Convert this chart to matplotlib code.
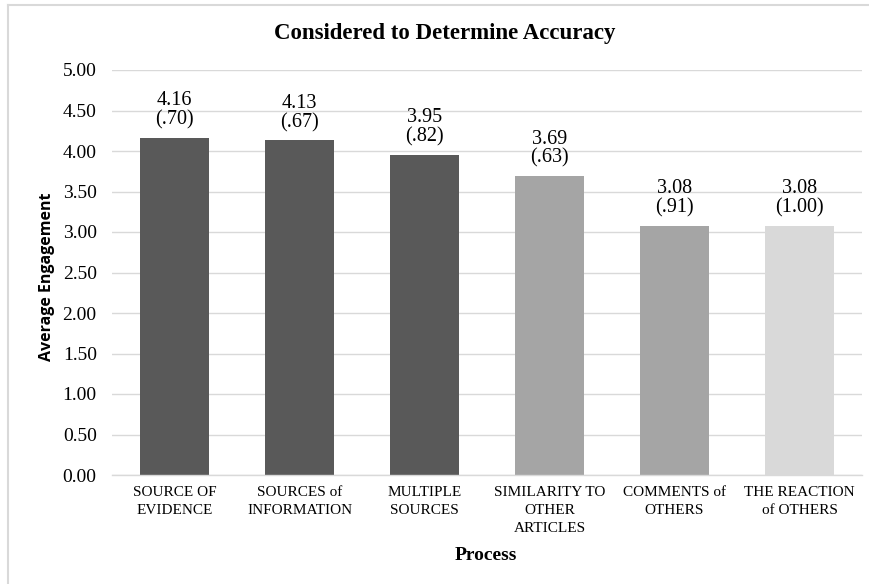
import matplotlib.pyplot as plt
from matplotlib.lines import Line2D

CATEGORIES = ["SOURCE OF\nEVIDENCE", "SOURCES of\nINFORMATION", "MULTIPLE\nSOURCES",
              "SIMILARITY TO\nOTHER\nARTICLES", "COMMENTS of\nOTHERS", "THE REACTION\nof OTHERS"]
MEANS = [4.16, 4.13, 3.95, 3.69, 3.08, 3.08]
SDS = ["(.70)", "(.67)", "(.82)", "(.63)", "(.91)", "(1.00)"]
COLORS = ["#595959", "#595959", "#595959", "#A5A5A5", "#A5A5A5", "#D9D9D9"]

SERIF = "Liberation Serif"
W, H = 869, 584

fig = plt.figure(figsize=(W / 100, H / 100), dpi=100)
ax = fig.add_axes([112 / W, 1 - 475 / H, 750 / W, 405 / H])

# chart frame: only top and left edges fall inside the picture
fig.lines.append(Line2D([8 / W, 1], [1 - 5 / H, 1 - 5 / H], transform=fig.transFigure,
                        color="#D9D9D9", linewidth=1.5))
fig.lines.append(Line2D([8 / W, 8 / W], [0, 1 - 5 / H], transform=fig.transFigure,
                        color="#D9D9D9", linewidth=1.5))

xs = range(len(MEANS))
ax.bar(xs, MEANS, width=0.55, color=COLORS, zorder=2)
for x, m, sd in zip(xs, MEANS, SDS):
    ax.annotate(f"{m:.2f}\n{sd}", (x, m), xytext=(0, 6), textcoords="offset points",
                ha="center", va="bottom", fontsize=14.5, family=SERIF, linespacing=1.0)

ax.set_xlim(-0.5, len(MEANS) - 0.5)
ax.set_ylim(0, 5)
ax.set_yticks([i * 0.5 for i in range(11)])
ax.set_yticklabels([f"{i * 0.5:.2f}" for i in range(11)], family=SERIF, fontsize=14)
ax.set_xticks(list(xs))
ax.set_xticklabels(CATEGORIES, family=SERIF, fontsize=11, linespacing=1.5, va="top")
ax.tick_params(axis="y", length=0, pad=11)
ax.tick_params(axis="x", length=0, pad=8)
ax.grid(axis="y", color="#D9D9D9", linewidth=1.0, zorder=0)
for s in ["top", "right", "left"]:
    ax.spines[s].set_visible(False)
ax.spines["bottom"].set_color("#D9D9D9")
ax.spines["bottom"].set_linewidth(1.0)

fig.text(47 / W, 1 - 277 / H, "Average Engagement", rotation=90, ha="center", va="center",
         family="Open Sans", fontweight="bold", fontsize=11.5)
fig.text(486 / W, 1 - 555 / H, "Process", ha="center", va="center",
         family=SERIF, fontweight="bold", fontsize=14)
fig.text(445 / W, 1 - 34 / H, "Considered to Determine Accuracy", ha="center", va="center",
         family=SERIF, fontweight="bold", fontsize=16.5)

fig.savefig("out.png", dpi=100)
